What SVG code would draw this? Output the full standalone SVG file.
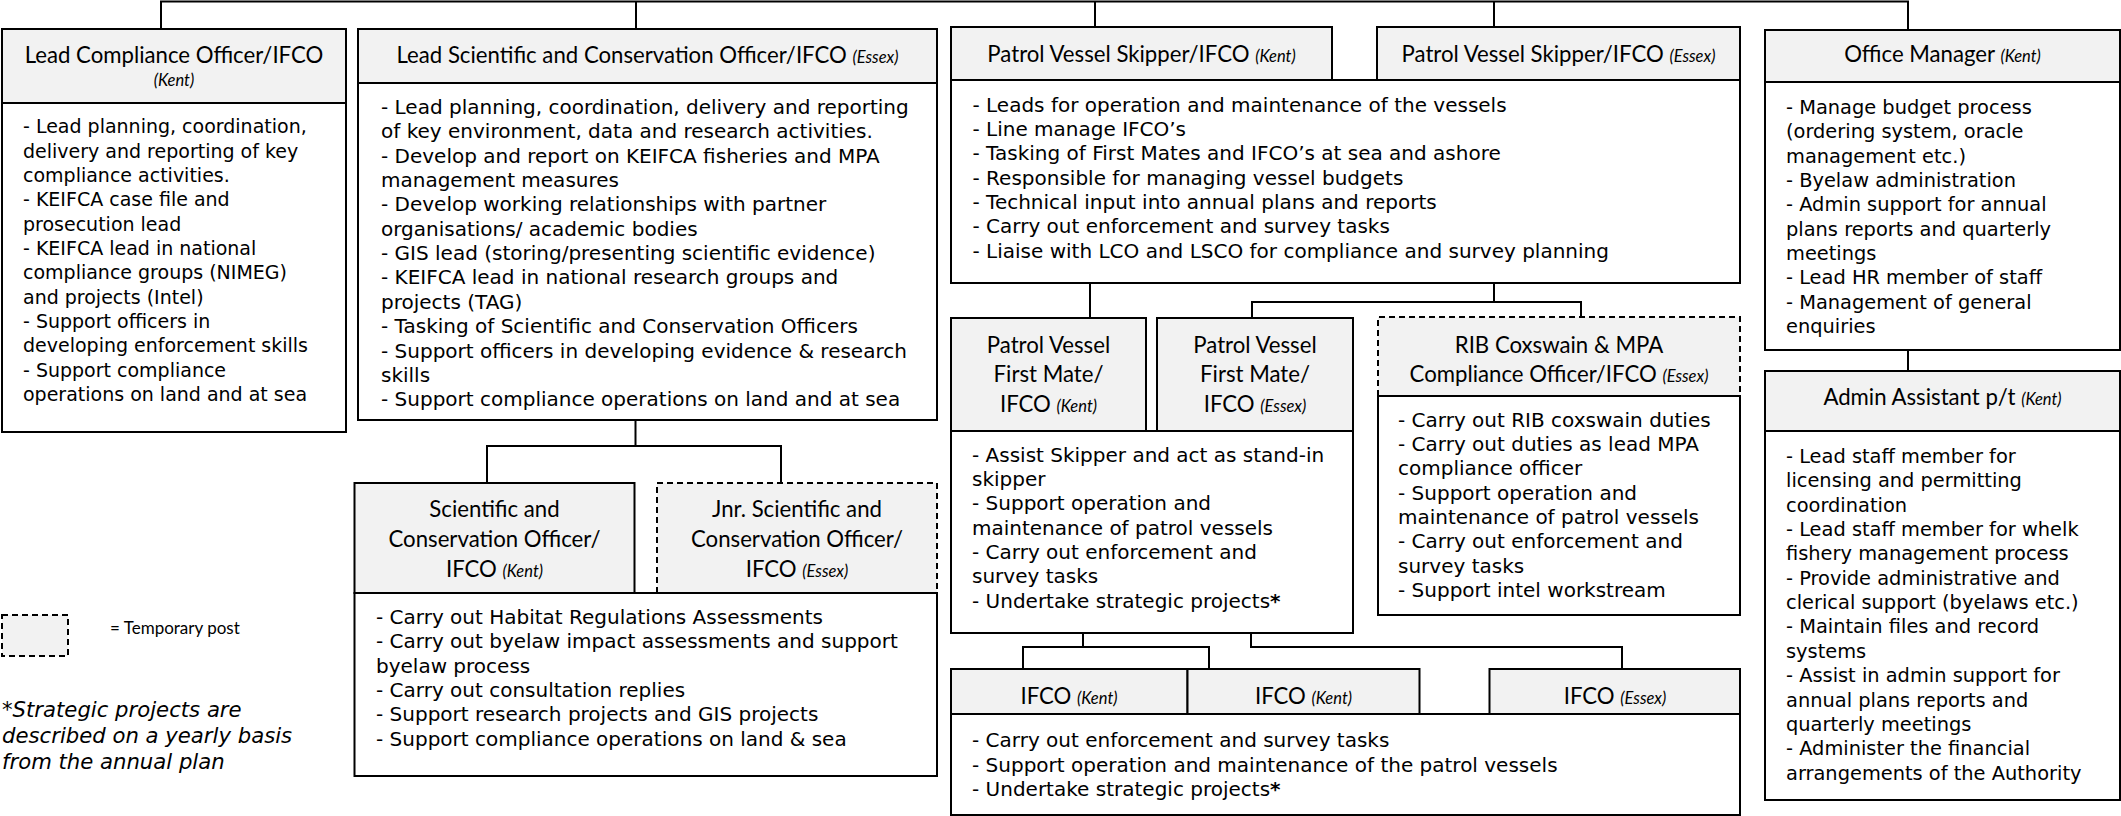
<svg xmlns="http://www.w3.org/2000/svg" width="2121" height="816" viewBox="0 0 2121 816">
<style>
.box{fill:#fff;stroke:#000;stroke-width:2}
.hdr{fill:#f2f2f2;stroke:#000;stroke-width:2}
.hfill{fill:#f2f2f2;stroke:none}
.dash{fill:none;stroke:#000;stroke-width:2;stroke-dasharray:6 4}
.ln{fill:none;stroke:#000;stroke-width:2}
.h{font-family:Lato,"Liberation Sans",sans-serif;font-size:22.2px;text-anchor:middle;fill:#000}
.i{font-style:italic;font-size:16.5px}
.b{font-family:"DejaVu Sans",Verdana,sans-serif;font-size:20px;fill:#000}
.b19{font-size:19px}
.b195{font-size:19.4px}
.st{font-weight:bold}
.leg{font-family:Lato,"Liberation Sans",sans-serif;font-size:17px;fill:#000}
.note{font-family:"DejaVu Sans",Verdana,sans-serif;font-style:italic;font-size:21.2px;fill:#000}
</style>

<g id="connectors">
<path class="ln" d="M161,30 V1.5 H1908 V30"/>
<path class="ln" d="M636,1.5 V29"/>
<path class="ln" d="M1095,1.5 V27"/>
<path class="ln" d="M1494,1.5 V27"/>
<path class="ln" d="M635.5,420 V446"/>
<path class="ln" d="M487,483 V446 H781 V483"/>
<path class="ln" d="M1090,283 V318"/>
<path class="ln" d="M1494,283 V302"/>
<path class="ln" d="M1252,318 V302 H1581 V317"/>
<path class="ln" d="M1083,633 V647"/>
<path class="ln" d="M1023,669 V647 H1209 V669"/>
<path class="ln" d="M1251,633 V647 H1622 V669"/>
<path class="ln" d="M1908,350 V371"/>
</g>

<g id="lead-compliance-officer">
<rect class="hdr" x="2" y="29" width="344" height="74"/>
<rect class="box" x="2" y="103" width="344" height="329"/>
<text class="h" x="174" y="63">Lead Compliance Officer/IFCO</text>
<text class="h i" x="174" y="86">(Kent)</text>
<text class="b b19" y="133.3">
<tspan x="23">- Lead planning, coordination,</tspan>
<tspan x="23" dy="24.35">delivery and reporting of key</tspan>
<tspan x="23" dy="24.35">compliance activities.</tspan>
<tspan x="23" dy="24.35">- KEIFCA case file and</tspan>
<tspan x="23" dy="24.35">prosecution lead</tspan>
<tspan x="23" dy="24.35">- KEIFCA lead in national</tspan>
<tspan x="23" dy="24.35">compliance groups (NIMEG)</tspan>
<tspan x="23" dy="24.35">and projects (Intel)</tspan>
<tspan x="23" dy="24.35">- Support officers in</tspan>
<tspan x="23" dy="24.35">developing enforcement skills</tspan>
<tspan x="23" dy="24.35">- Support compliance</tspan>
<tspan x="23" dy="24.35">operations on land and at sea</tspan>
</text>
</g>

<g id="lead-scientific-officer">
<rect class="hdr" x="358" y="29" width="579" height="54"/>
<rect class="box" x="358" y="83" width="579" height="337"/>
<text class="h" x="647.5" y="63">Lead Scientific and Conservation Officer/IFCO <tspan class="i">(Essex)</tspan></text>
<text class="b" y="114">
<tspan x="381">- Lead planning, coordination, delivery and reporting</tspan>
<tspan x="381" dy="24.35">of key environment, data and research activities.</tspan>
<tspan x="381" dy="24.35">- Develop and report on KEIFCA fisheries and MPA</tspan>
<tspan x="381" dy="24.35">management measures</tspan>
<tspan x="381" dy="24.35">- Develop working relationships with partner</tspan>
<tspan x="381" dy="24.35">organisations/ academic bodies</tspan>
<tspan x="381" dy="24.35">- GIS lead (storing/presenting scientific evidence)</tspan>
<tspan x="381" dy="24.35">- KEIFCA lead in national research groups and</tspan>
<tspan x="381" dy="24.35">projects (TAG)</tspan>
<tspan x="381" dy="24.35">- Tasking of Scientific and Conservation Officers</tspan>
<tspan x="381" dy="24.35">- Support officers in developing evidence &amp; research</tspan>
<tspan x="381" dy="24.35">skills</tspan>
<tspan x="381" dy="24.35">- Support compliance operations on land and at sea</tspan>
</text>
</g>

<g id="skipper-kent">
<rect class="hdr" x="951" y="27" width="381" height="53"/>
<text class="h" x="1141.5" y="62">Patrol Vessel Skipper/IFCO <tspan class="i">(Kent)</tspan></text>
</g>

<g id="skipper-essex">
<rect class="hdr" x="1377" y="27" width="363" height="53"/>
<text class="h" x="1558.5" y="62">Patrol Vessel Skipper/IFCO <tspan class="i">(Essex)</tspan></text>
</g>

<g id="skipper-duties">
<rect class="box" x="951" y="80" width="789" height="203"/>
<text class="b" y="111.7">
<tspan x="972.5">- Leads for operation and maintenance of the vessels</tspan>
<tspan x="972.5" dy="24.35">- Line manage IFCO’s</tspan>
<tspan x="972.5" dy="24.35">- Tasking of First Mates and IFCO’s at sea and ashore</tspan>
<tspan x="972.5" dy="24.35">- Responsible for managing vessel budgets</tspan>
<tspan x="972.5" dy="24.35">- Technical input into annual plans and reports</tspan>
<tspan x="972.5" dy="24.35">- Carry out enforcement and survey tasks</tspan>
<tspan x="972.5" dy="24.35">- Liaise with LCO and LSCO for compliance and survey planning</tspan>
</text>
</g>

<g id="office-manager">
<rect class="hdr" x="1765" y="30" width="355" height="52"/>
<rect class="box" x="1765" y="82" width="355" height="268"/>
<text class="h" x="1942.5" y="62">Office Manager <tspan class="i">(Kent)</tspan></text>
<text class="b b195" y="114">
<tspan x="1786">- Manage budget process</tspan>
<tspan x="1786" dy="24.35">(ordering system, oracle</tspan>
<tspan x="1786" dy="24.35">management etc.)</tspan>
<tspan x="1786" dy="24.35">- Byelaw administration</tspan>
<tspan x="1786" dy="24.35">- Admin support for annual</tspan>
<tspan x="1786" dy="24.35">plans reports and quarterly</tspan>
<tspan x="1786" dy="24.35">meetings</tspan>
<tspan x="1786" dy="24.35">- Lead HR member of staff</tspan>
<tspan x="1786" dy="24.35">- Management of general</tspan>
<tspan x="1786" dy="24.35">enquiries</tspan>
</text>
</g>

<g id="admin-assistant">
<rect class="hdr" x="1765" y="371" width="355" height="60"/>
<rect class="box" x="1765" y="431" width="355" height="369"/>
<text class="h" x="1942.5" y="405">Admin Assistant p/t <tspan class="i">(Kent)</tspan></text>
<text class="b b195" y="463">
<tspan x="1786">- Lead staff member for</tspan>
<tspan x="1786" dy="24.35">licensing and permitting</tspan>
<tspan x="1786" dy="24.35">coordination</tspan>
<tspan x="1786" dy="24.35">- Lead staff member for whelk</tspan>
<tspan x="1786" dy="24.35">fishery management process</tspan>
<tspan x="1786" dy="24.35">- Provide administrative and</tspan>
<tspan x="1786" dy="24.35">clerical support (byelaws etc.)</tspan>
<tspan x="1786" dy="24.35">- Maintain files and record</tspan>
<tspan x="1786" dy="24.35">systems</tspan>
<tspan x="1786" dy="24.35">- Assist in admin support for</tspan>
<tspan x="1786" dy="24.35">annual plans reports and</tspan>
<tspan x="1786" dy="24.35">quarterly meetings</tspan>
<tspan x="1786" dy="24.35">- Administer the financial</tspan>
<tspan x="1786" dy="24.35">arrangements of the Authority</tspan>
</text>
</g>

<g id="first-mate-kent">
<rect class="hdr" x="951" y="318" width="195" height="113"/>
<text class="h" x="1048.5" y="352.5">Patrol Vessel<tspan x="1048.5" dy="29.5">First Mate/</tspan><tspan x="1048.5" dy="29.5">IFCO <tspan class="i">(Kent)</tspan></tspan></text>
</g>

<g id="first-mate-essex">
<rect class="hdr" x="1157" y="318" width="196" height="113"/>
<text class="h" x="1255" y="352.5">Patrol Vessel<tspan x="1255" dy="29.5">First Mate/</tspan><tspan x="1255" dy="29.5">IFCO <tspan class="i">(Essex)</tspan></tspan></text>
</g>

<g id="first-mate-duties">
<rect class="box" x="951" y="431" width="402" height="202"/>
<text class="b" y="461.7">
<tspan x="972">- Assist Skipper and act as stand-in</tspan>
<tspan x="972" dy="24.35">skipper</tspan>
<tspan x="972" dy="24.35">- Support operation and</tspan>
<tspan x="972" dy="24.35">maintenance of patrol vessels</tspan>
<tspan x="972" dy="24.35">- Carry out enforcement and</tspan>
<tspan x="972" dy="24.35">survey tasks</tspan>
<tspan x="972" dy="24.35">- Undertake strategic projects<tspan class="st">*</tspan></tspan>
</text>
</g>

<g id="rib-coxswain">
<rect class="hfill" x="1378" y="317" width="362" height="79"/>
<path class="dash" d="M1378,396 V317 H1740 V396"/>
<rect class="box" x="1378" y="396" width="362" height="219"/>
<text class="h" x="1559" y="352.5">RIB Coxswain &amp; MPA<tspan x="1559" dy="29.5">Compliance Officer/IFCO <tspan class="i">(Essex)</tspan></tspan></text>
<text class="b" y="426.7">
<tspan x="1398">- Carry out RIB coxswain duties</tspan>
<tspan x="1398" dy="24.35">- Carry out duties as lead MPA</tspan>
<tspan x="1398" dy="24.35">compliance officer</tspan>
<tspan x="1398" dy="24.35">- Support operation and</tspan>
<tspan x="1398" dy="24.35">maintenance of patrol vessels</tspan>
<tspan x="1398" dy="24.35">- Carry out enforcement and</tspan>
<tspan x="1398" dy="24.35">survey tasks</tspan>
<tspan x="1398" dy="24.35">- Support intel workstream</tspan>
</text>
</g>

<g id="ifco-kent-1">
<rect class="hdr" x="951" y="669" width="236.5" height="45"/>
<text class="h" x="1069" y="704">IFCO <tspan class="i">(Kent)</tspan></text>
</g>
<g id="ifco-kent-2">
<rect class="hdr" x="1187.5" y="669" width="232" height="45"/>
<text class="h" x="1303.5" y="704">IFCO <tspan class="i">(Kent)</tspan></text>
</g>
<g id="ifco-essex">
<rect class="hdr" x="1489.5" y="669" width="250.5" height="45"/>
<text class="h" x="1615" y="704">IFCO <tspan class="i">(Essex)</tspan></text>
</g>
<g id="ifco-duties">
<rect class="box" x="951" y="714" width="789" height="101"/>
<text class="b" y="747.3">
<tspan x="972">- Carry out enforcement and survey tasks</tspan>
<tspan x="972" dy="24.35">- Support operation and maintenance of the patrol vessels</tspan>
<tspan x="972" dy="24.35">- Undertake strategic projects<tspan class="st">*</tspan></tspan>
</text>
</g>

<g id="sco-kent">
<rect class="hdr" x="354.5" y="483" width="280" height="110"/>
<text class="h" x="494.5" y="517">Scientific and<tspan x="494.5" dy="29.8">Conservation Officer/</tspan><tspan x="494.5" dy="29.8">IFCO <tspan class="i">(Kent)</tspan></tspan></text>
</g>
<g id="jnr-sco-essex">
<rect class="hfill" x="657" y="483" width="280" height="110"/>
<path class="dash" d="M657,593 V483 H937 V593"/>
<text class="h" x="797" y="517">Jnr. Scientific and<tspan x="797" dy="29.8">Conservation Officer/</tspan><tspan x="797" dy="29.8">IFCO <tspan class="i">(Essex)</tspan></tspan></text>
</g>
<g id="sco-duties">
<rect class="box" x="354.5" y="593" width="582.5" height="183"/>
<text class="b" y="624">
<tspan x="376">- Carry out Habitat Regulations Assessments</tspan>
<tspan x="376" dy="24.35">- Carry out byelaw impact assessments and support</tspan>
<tspan x="376" dy="24.35">byelaw process</tspan>
<tspan x="376" dy="24.35">- Carry out consultation replies</tspan>
<tspan x="376" dy="24.35">- Support research projects and GIS projects</tspan>
<tspan x="376" dy="24.35">- Support compliance operations on land &amp; sea</tspan>
</text>
</g>

<g id="legend">
<rect x="2" y="615" width="66" height="41" fill="#f2f2f2" stroke="#000" stroke-width="2" stroke-dasharray="6 4"/>
<text class="leg" x="110" y="634">= Temporary post</text>
<text class="note" y="717"><tspan x="2">*Strategic projects are</tspan><tspan x="2" dy="26">described on a yearly basis</tspan><tspan x="2" dy="26">from the annual plan</tspan></text>
</g>
</svg>
